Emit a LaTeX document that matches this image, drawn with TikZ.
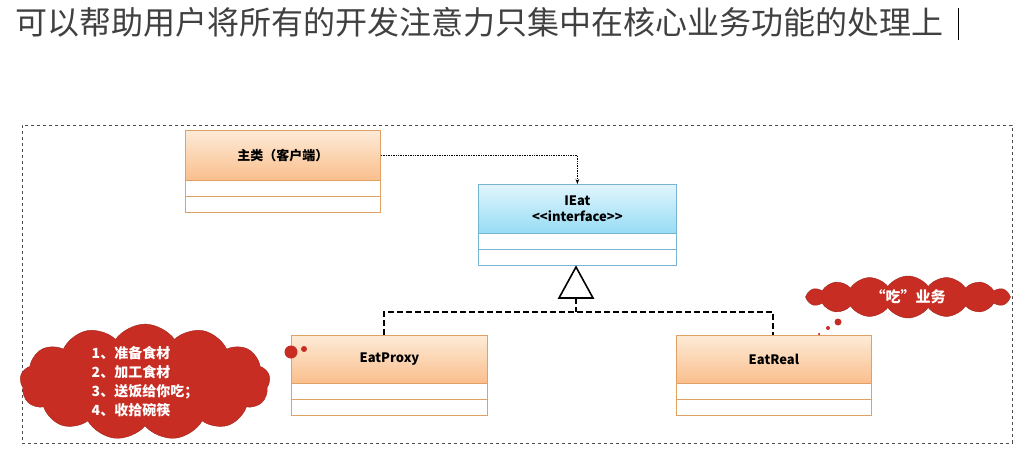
\documentclass[tikz,border=0pt]{standalone}
\usepackage{fontspec}
\setmainfont{Noto Sans CJK SC}
\newfontfamily\cjk{Noto Sans CJK SC}
\usetikzlibrary{shapes.symbols,arrows.meta}
\definecolor{orh}{RGB}{250,190,140}
\definecolor{orl}{RGB}{253,235,215}
\definecolor{orb}{RGB}{225,160,100}
\definecolor{blh}{RGB}{150,220,245}
\definecolor{bll}{RGB}{225,245,252}
\definecolor{blb}{RGB}{120,180,210}
\definecolor{cloudred}{RGB}{200,45,35}
\begin{document}
\begin{tikzpicture}[x=1pt,y=-1pt,
  hdr/.style={draw=#1,line width=0.8pt,anchor=north west,inner sep=0pt},
  row/.style={draw=#1,fill=white,line width=0.8pt,anchor=north west,inner sep=0pt,minimum height=16pt},
  lbl/.style={font=\fontsize{13}{16}\selectfont\bfseries},
  cl/.style={cloud,cloud ignores aspect,cloud puffs=13,cloud puff arc=110,fill=cloudred,draw=cloudred!80!black,text=white,inner sep=0pt},
  bub/.style={circle,fill=cloudred,inner sep=0pt}]
\useasboundingbox (0,0) rectangle (1033,455);
\node[anchor=west,text=black!75,font=\fontsize{32}{34}\selectfont,inner sep=0pt] (title) at (15,22) {可以帮助用户将所有的开发注意力只集中在核心业务功能的处理上};
\draw[line width=1pt] (958,8) -- (958,40);
\node[draw=black!70,dashed,line width=0.7pt,anchor=north west,minimum width=990pt,minimum height=318pt,inner sep=0pt] (frame) at (22,125) {};
% client
\node[hdr=orb,top color=orl,bottom color=orh,minimum width=195pt,minimum height=50pt,lbl] (client) at (185,130) {主类（客户端）};
\node[row=orb,minimum width=195pt] (c1) at (185,180) {};
\node[row=orb,minimum width=195pt] (c2) at (185,196) {};
% IEat
\node[hdr=blb,top color=bll,bottom color=blh,minimum width=198pt,minimum height=49pt,lbl,align=center] (ieat) at (478,184) {IEat\\ <{}<interface>{}>};
\node[row=blb,minimum width=198pt] (i1) at (478,233) {};
\node[row=blb,minimum width=198pt] (i2) at (478,249) {};
% proxy & real
\node[hdr=orb,top color=orl,bottom color=orh,minimum width=196pt,minimum height=48pt,lbl] (proxy) at (291,335) {EatProxy};
\node[row=orb,minimum width=196pt] (p1) at (291,383) {};
\node[row=orb,minimum width=196pt] (p2) at (291,399) {};
\node[hdr=orb,top color=orl,bottom color=orh,minimum width=195pt,minimum height=48pt,lbl] (real) at (676,335) {EatReal};
\node[row=orb,minimum width=195pt] (r1) at (676,383) {};
\node[row=orb,minimum width=195pt] (r2) at (676,399) {};
% dependency
\draw[densely dotted,line width=0.7pt,-{Stealth[length=5pt]}] (client.east) -- (client.east -| ieat.north) -- (ieat.north);
% realization
\coordinate (tb) at (576,298);
\draw[line width=1.6pt,fill=white] (576,267) -- (593,298) -- (559,298) -- cycle;
\coordinate (junc) at (576,312);
\draw[dash pattern=on 6pt off 3pt,line width=1.8pt] (tb) -- (junc);
\draw[dash pattern=on 6pt off 3pt,line width=1.8pt] (proxy.north -| 384,0) |- (junc) -| (real.north -| 773,0);
% clouds
\node[cl,minimum width=250pt,minimum height=100pt,align=left,font=\fontsize{14}{19}\selectfont\bfseries] (note1) at (145,382) {1、准备食材\\2、加工食材\\3、送饭给你吃；\\4、收拾碗筷};
\node[bub,minimum size=13pt] (b1) at (291,352) {};
\node[bub,minimum size=6pt] (b2) at (304,349) {};
\node[cl,cloud puffs=16,minimum width=205pt,minimum height=42pt,font=\fontsize{15}{17}\selectfont\bfseries] (note2) at (908,297) {“吃”业务};
\node[bub,minimum size=7pt] (b3) at (838,322) {};
\node[bub,minimum size=4pt] (b4) at (828,328) {};
\node[bub,minimum size=2.5pt] (b5) at (819,334) {};
\end{tikzpicture}
\end{document}
